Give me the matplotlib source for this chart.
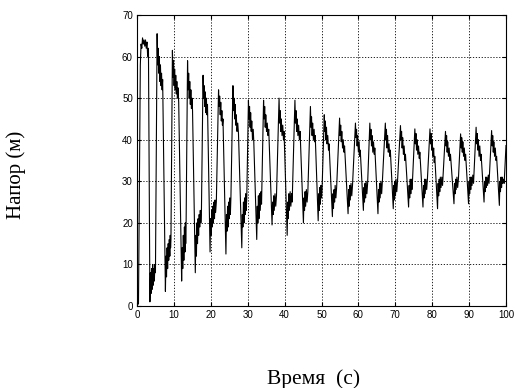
import matplotlib
matplotlib.use("Agg")
import matplotlib.pyplot as plt

# Напор во времени (по циклам: пик, полка, провал)
time_s = [
    0.0, 0.4, 0.9, 1.1, 1.3, 1.5, 1.7, 1.9, 2.1, 2.3, 2.5, 2.7, 2.9, 3.1,
    3.5, 3.65, 3.8, 3.95, 4.1, 4.25, 4.4, 4.55, 4.7, 4.85, 5.0,
    5.45, 5.6, 5.75, 5.9, 6.05, 6.2, 6.35, 6.5, 6.65, 6.8, 6.95,
    7.7, 7.85, 8.0, 8.15, 8.3, 8.45, 8.6, 8.75, 8.9, 9.0, 9.1, 9.2,
    9.6, 9.75, 9.9, 10.05, 10.2, 10.35, 10.5, 10.65, 10.8, 10.95, 11.1, 11.3,
    12.1, 12.25, 12.4, 12.55, 12.7, 12.85, 13.0, 13.1, 13.2, 13.3,
    13.7, 13.85, 14.0, 14.15, 14.3, 14.45, 14.6, 14.75, 14.9, 15.05,
    15.8, 15.95, 16.1, 16.25, 16.4, 16.55, 16.7, 16.85, 17.0, 17.15, 17.3, 17.45,
    17.9, 18.05, 18.2, 18.35, 18.5, 18.65, 18.8, 18.95, 19.1,
    19.8, 19.95, 20.1, 20.25, 20.4, 20.55, 20.7, 20.85, 21.0, 21.15, 21.3, 21.5,
    22.1, 22.25, 22.4, 22.55, 22.7, 22.85, 23.0, 23.15, 23.3,
    24.1, 24.25, 24.4, 24.55, 24.7, 24.85, 25.0, 25.15, 25.3, 25.45,
    26.0, 26.15, 26.3, 26.45, 26.6, 26.75, 26.9, 27.1, 27.3, 27.5,
    28.4, 28.55, 28.7, 28.85, 29.0, 29.15, 29.3, 29.45, 29.6, 29.75,
    30.2, 30.35, 30.5, 30.65, 30.8, 30.95, 31.1, 31.3, 31.5, 31.65,
    32.45, 32.6, 32.75, 32.9, 33.05, 33.2, 33.4, 33.6, 33.75,
    34.3, 34.45, 34.6, 34.75, 34.9, 35.1, 35.3, 35.5, 35.7,
    36.6, 36.75, 36.9, 37.05, 37.2, 37.4, 37.6, 37.8,
    38.5, 38.65, 38.8, 38.95, 39.1, 39.3, 39.5, 39.7, 39.85,
    40.7, 40.85, 41.0, 41.15, 41.3, 41.5, 41.7, 41.9, 42.05,
    42.8, 42.95, 43.1, 43.25, 43.4, 43.6, 43.8, 44.0, 44.2,
    45.1, 45.25, 45.4, 45.55, 45.7, 45.9, 46.1, 46.3,
    47.0, 47.15, 47.3, 47.45, 47.6, 47.8, 48.0, 48.15, 48.3,
    49.1, 49.25, 49.4, 49.55, 49.7, 49.85, 50.0, 50.15,
    50.75, 50.9, 51.05, 51.2, 51.35, 51.5, 51.7, 51.9, 52.05,
    52.95, 53.1, 53.25, 53.4, 53.55, 53.7, 53.9, 54.1,
    54.9, 55.05, 55.2, 55.35, 55.5, 55.7, 55.9, 56.1, 56.25,
    57.2, 57.35, 57.5, 57.65, 57.8, 58.0, 58.2, 58.4,
    59.2, 59.35, 59.5, 59.65, 59.8, 60.0, 60.2, 60.35, 60.5,
    61.35, 61.5, 61.65, 61.8, 61.95, 62.1, 62.3, 62.5,
    63.1, 63.25, 63.4, 63.55, 63.7, 63.9, 64.1, 64.3, 64.45,
    65.3, 65.45, 65.6, 65.75, 65.9, 66.1, 66.3, 66.5,
    67.3, 67.45, 67.6, 67.75, 67.9, 68.1, 68.3, 68.5, 68.65,
    69.45, 69.6, 69.75, 69.9, 70.05, 70.2, 70.4, 70.6,
    71.4, 71.55, 71.7, 71.85, 72.0, 72.2, 72.4, 72.6, 72.75,
    73.6, 73.75, 73.9, 74.05, 74.2, 74.35, 74.5, 74.65,
    75.3, 75.45, 75.6, 75.75, 75.9, 76.1, 76.3, 76.5, 76.65,
    77.5, 77.65, 77.8, 77.95, 78.1, 78.3, 78.5, 78.7,
    79.4, 79.55, 79.7, 79.85, 80.0, 80.2, 80.4, 80.55, 80.7,
    81.45, 81.6, 81.75, 81.9, 82.05, 82.2, 82.4, 82.6, 82.8,
    83.6, 83.75, 83.9, 84.05, 84.2, 84.4, 84.6, 84.8, 84.95,
    85.9, 86.05, 86.2, 86.35, 86.5, 86.7, 86.9, 87.1,
    87.7, 87.85, 88.0, 88.15, 88.3, 88.5, 88.7, 88.9, 89.05,
    89.85, 90.0, 90.15, 90.3, 90.45, 90.6, 90.8, 91.0, 91.2,
    91.9, 92.05, 92.2, 92.35, 92.5, 92.7, 92.9, 93.1, 93.25,
    94.05, 94.2, 94.35, 94.5, 94.65, 94.8, 95.0, 95.2, 95.4,
    96.1, 96.25, 96.4, 96.55, 96.7, 96.9, 97.1, 97.3, 97.45,
    98.2, 98.35, 98.5, 98.65, 98.8, 98.95, 99.1, 99.3, 99.5, 100.0,
]
head_m = [
    0.3, 0.5, 58, 63, 62, 64.5, 63, 64, 62.5, 64, 62, 63.5, 60, 62,
    1, 8, 3, 9, 4, 10, 5, 9, 6, 10, 8,
    65.5, 58, 62, 56, 60, 54, 58, 53, 56, 52, 54.5,
    3.5, 12, 7, 14, 9, 15, 11, 16, 12, 17, 14, 16,
    61.5, 55, 59, 53, 57, 52, 55.5, 51, 54, 50, 52.5, 49,
    6, 14, 9, 17, 11, 19, 13, 20, 15, 19,
    59, 52, 56, 50, 54, 48.5, 52, 47.5, 50, 47,
    8, 17, 12, 20, 15, 21, 17, 22, 19, 23, 20, 22,
    55.5, 50, 53, 48, 51.5, 46.5, 50, 46, 48.5,
    13, 21, 17, 23, 19, 24, 20, 25, 21, 25.5, 22.5, 25,
    52, 48, 50.5, 46, 49, 44.5, 47, 43.5, 45,
    12.5, 22, 18, 24, 19, 25, 21, 26, 22, 26,
    53, 47, 50, 45, 48.5, 43.5, 46, 42, 44, 41.5,
    14, 22, 19, 25, 20, 26, 22, 27, 23, 26,
    49.5, 45, 48, 43, 46.5, 42, 44.5, 40, 42.5, 39.5,
    16, 24, 20, 26.5, 21, 27, 23, 27.5, 24.5,
    49.5, 45, 48, 43, 46, 42, 44, 41, 42.5,
    19.5, 25, 22, 26.5, 23, 27, 24, 26.5,
    50, 44, 47, 42, 45, 41, 43.5, 40, 42,
    17, 25, 21, 27, 23, 27.5, 24, 27, 25,
    49.5, 44, 47, 42, 45, 41, 43.5, 40, 42,
    20, 26, 23, 27.5, 24, 28, 25, 27.5,
    48, 43, 45.5, 41, 44, 40, 42.5, 39.5, 41,
    20.5, 27, 23, 28.5, 24.5, 29, 26, 28,
    46, 42, 44.5, 40, 43, 39, 41, 37.5, 39,
    21.5, 27, 23.5, 28, 25, 29, 26, 28.5,
    45.2, 41, 43.5, 39.5, 42, 38, 40, 37, 38.5,
    22.2, 28, 24, 29, 25.5, 29.5, 26.5, 29,
    44, 40.5, 42.5, 38.5, 41, 37, 39.5, 36, 37.5,
    23, 28.5, 25, 29.5, 26, 30, 27, 29.5,
    44, 40, 42.5, 38.5, 41, 37, 39.5, 36.5, 38,
    22.2, 28, 25, 29.5, 26, 30, 27, 30,
    44, 40, 42.5, 38, 41, 37, 39, 36, 37.5,
    23.4, 29, 25.5, 30, 26.5, 30.5, 27.5, 30,
    43.4, 40, 42, 38, 40.5, 36.5, 38.5, 35, 36.5,
    23.8, 29, 26, 30.5, 27, 30.5, 28, 30,
    42.6, 39, 41.5, 37.5, 40, 36.5, 38.5, 35.5, 37,
    23.8, 29, 26, 30.5, 27, 30.5, 28, 30.5,
    42.6, 39, 41.5, 37.5, 40, 36, 38, 34.5, 36,
    23.4, 29.5, 26.5, 30.5, 27.5, 31, 28.5, 31, 29,
    42, 38.5, 41, 37, 39.5, 36, 38, 35, 36.5,
    24.6, 29.5, 27, 30.5, 28, 31, 28.5, 30.5,
    41.4, 38, 40.5, 37, 39.5, 36, 38, 35, 36.5,
    24.6, 30, 27, 31, 28, 31, 29, 31.5, 29.5,
    43, 39, 41.5, 37.5, 40, 36, 38.5, 35, 36.5,
    25, 30, 27.5, 31, 28.5, 31, 29, 31.5, 29.5,
    42.2, 38.5, 41, 37, 39.5, 36, 38, 35, 36,
    24.2, 30, 27.5, 31, 28.5, 31, 29.5, 30.5, 29.5, 38.6,
]

x_ticks = list(range(0, 101, 10))
y_ticks = list(range(0, 71, 10))

fig = plt.figure(figsize=(5.15, 3.88), dpi=100)
ax = fig.add_axes([137 / 515, 1 - 306 / 388, 369 / 515, 291 / 388])

ax.plot(time_s, head_m, color='black', linewidth=0.8)

ax.set_xlim(0, 100)
ax.set_ylim(0, 70)
ax.set_xticks(x_ticks)
ax.set_yticks(y_ticks)
ax.grid(True, color='black', linestyle=(0, (1.5, 2)), linewidth=0.6)
ax.tick_params(direction='in', length=3, top=True, right=True,
               labelsize=7, pad=3)
for lab in ax.get_xticklabels() + ax.get_yticklabels():
    lab.set_family('Liberation Sans')
for s in ax.spines.values():
    s.set_linewidth(0.8)

fig.text(16 / 515, 1 - 219 / 388, 'Напор (м)', rotation=90, ha='center',
         va='bottom', family='Liberation Serif', fontsize=15)
fig.text(314 / 515, 1 - 384 / 388, 'Время  (с)', ha='center', va='baseline',
         family='Liberation Serif', fontsize=15.5)

fig.savefig('out.png', dpi=100)
